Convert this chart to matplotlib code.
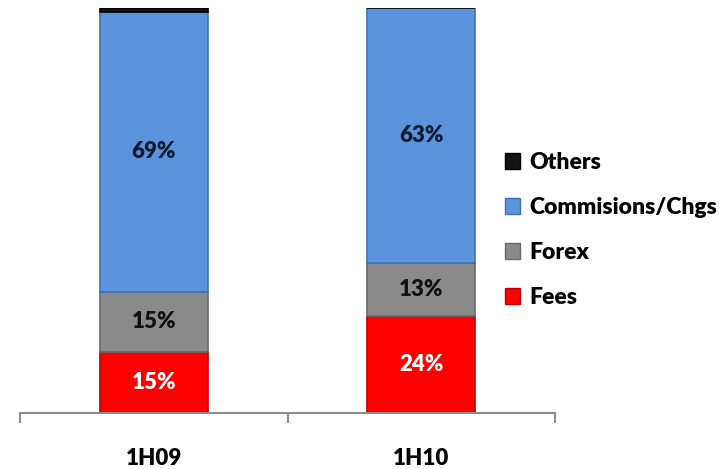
import matplotlib
matplotlib.use("Agg")
import matplotlib.pyplot as plt
from matplotlib.patches import Patch

periods = ["1H09", "1H10"]
series = ["Fees", "Forex", "Commisions/Chgs", "Others"]
fees = [15, 24]
forex = [15, 13]
commissions = [69, 63]
others = [1, 0]

colors = {"Fees": "#ff0000", "Forex": "#8a8a8a",
          "Commisions/Chgs": "#5b94dc", "Others": "#141414"}
edges = {"Fees": "#c00000", "Forex": "#6a6a6a",
         "Commisions/Chgs": "#3f72b5", "Others": "#000000"}
label_colors = {"Fees": "white", "Forex": "#111111",
                "Commisions/Chgs": "#0d1b2e", "Others": "white"}

plt.rcParams["font.family"] = ["Lato", "DejaVu Sans"]
plt.rcParams["font.weight"] = "heavy"

fig = plt.figure(figsize=(7.25, 4.69), dpi=100)
ax = fig.add_axes([20 / 725, 56 / 469, 535 / 725, 405 / 469])

x = list(range(len(periods)))
values = {"Fees": fees, "Forex": forex, "Commisions/Chgs": commissions, "Others": others}
bottom = [0] * len(periods)
for name in series:
    vals = values[name]
    ax.bar(x, vals, bottom=bottom, width=0.405, color=colors[name],
           edgecolor=edges[name], linewidth=1.2, zorder=2)
    for xi, v, b in zip(x, vals, bottom):
        if v >= 5:
            ax.text(xi, b + v / 2, f"{v}%", ha="center", va="center",
                    fontsize=16, fontweight="heavy", color=label_colors[name])
    bottom = [b + v for b, v in zip(bottom, vals)]

ax.set_xlim(-0.5, 1.5)
ax.set_ylim(0, 100)
for s in ("top", "right", "left"):
    ax.spines[s].set_visible(False)
ax.spines["bottom"].set_color("#8c8c8c")
ax.spines["bottom"].set_linewidth(1.5)
ax.set_yticks([])
ax.set_xticks(x)
ax.set_xticklabels(periods, fontsize=16, fontweight="heavy")
ax.tick_params(axis="x", which="major", length=0, pad=25)
ax.set_xticks([-0.5, 0.5, 1.5], minor=True)
ax.tick_params(axis="x", which="minor", length=7, width=1.5, color="#8c8c8c", direction="out")

handles = [Patch(facecolor=colors[n], edgecolor=edges[n], label=n) for n in reversed(series)]
fig.legend(handles=handles, loc="center left", bbox_to_anchor=(496 / 725, 1 - 230 / 469),
           frameon=False, fontsize=16.5, handlelength=0.65, handleheight=0.65,
           handletextpad=0.4, labelspacing=1.05, borderaxespad=0)

fig.savefig("out.png", dpi=100)
